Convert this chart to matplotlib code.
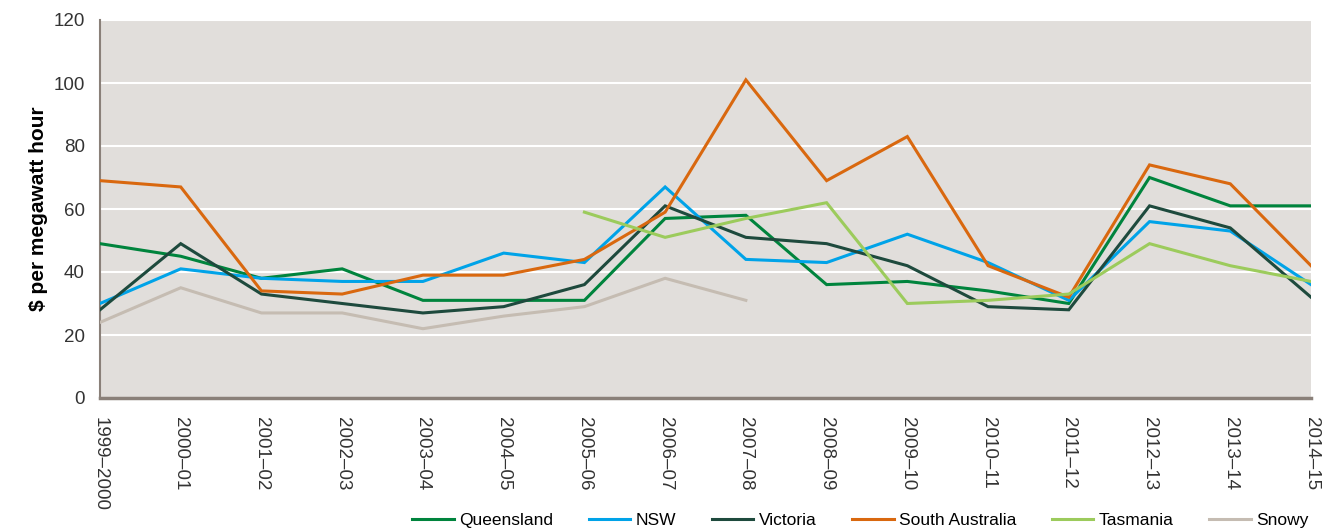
import matplotlib
matplotlib.use("Agg")
import matplotlib.pyplot as plt
import numpy as np

years = ["1999–2000", "2000–01", "2001–02", "2002–03", "2003–04", "2004–05",
         "2005–06", "2006–07", "2007–08", "2008–09", "2009–10", "2010–11",
         "2011–12", "2012–13", "2013–14", "2014–15"]

queensland = [49, 45, 38, 41, 31, 31, 31, 57, 58, 36, 37, 34, 30, 70, 61, 61]
nsw = [30, 41, 38, 37, 37, 46, 43, 67, 44, 43, 52, 43, 31, 56, 53, 36]
victoria = [28, 49, 33, 30, 27, 29, 36, 61, 51, 49, 42, 29, 28, 61, 54, 32]
south_australia = [69, 67, 34, 33, 39, 39, 44, 59, 101, 69, 83, 42, 32, 74, 68, 42]
tasmania = [None, None, None, None, None, None, 59, 51, 57, 62, 30, 31, 33, 49, 42, 37]
snowy = [24, 35, 27, 27, 22, 26, 29, 38, 31, None, None, None, None, None, None, None]

series = [
    ("Queensland", queensland, "#00843d"),
    ("NSW", nsw, "#00a3e8"),
    ("Victoria", victoria, "#1e4a3d"),
    ("South Australia", south_australia, "#d9680f"),
    ("Tasmania", tasmania, "#9ccb5c"),
    ("Snowy", snowy, "#c5bcb2"),
]

plt.rcParams['font.family'] = ['Liberation Sans', 'DejaVu Sans']

fig = plt.figure(figsize=(13.4, 5.32), dpi=100)
ax = fig.add_axes([100/1340, 1-398/532, (1311-100)/1340, (398-20)/532])
ax.set_facecolor("#e1dedb")

x = np.arange(len(years))
for name, vals, col in series:
    y = np.array([np.nan if v is None else v for v in vals], dtype=float)
    ax.plot(x, y, color=col, lw=2.2, label=name, solid_joinstyle='miter', zorder=3)

ax.set_xlim(0, len(years) - 1)
ax.set_ylim(0, 120)
ax.set_yticks(np.arange(0, 121, 20))
ax.yaxis.grid(True, color="white", lw=1.5, zorder=1)
ax.set_axisbelow(True)
ax.set_xticks(x)
ax.set_xticklabels(years, rotation=270, fontsize=13.5, color="#333333")
ax.tick_params(axis='x', length=0, pad=14)
ax.tick_params(axis='y', length=0, pad=11, labelsize=13.5, labelcolor="#333333")

for s in ["top", "right"]:
    ax.spines[s].set_visible(False)
ax.spines["left"].set_color("#8a8079")
ax.spines["left"].set_linewidth(1.5)
ax.spines["bottom"].set_color("#8a8079")
ax.spines["bottom"].set_linewidth(2.5)

ax.set_ylabel("$ per megawatt hour", fontsize=15, fontweight="bold", labelpad=4)

fig.legend(loc="center right", bbox_to_anchor=(0.988, 0.022), ncol=6, frameon=False,
           fontsize=12.5, handlelength=2.4, handletextpad=0.3, columnspacing=2.05)

fig.savefig("out.png", dpi=100, facecolor="white")
